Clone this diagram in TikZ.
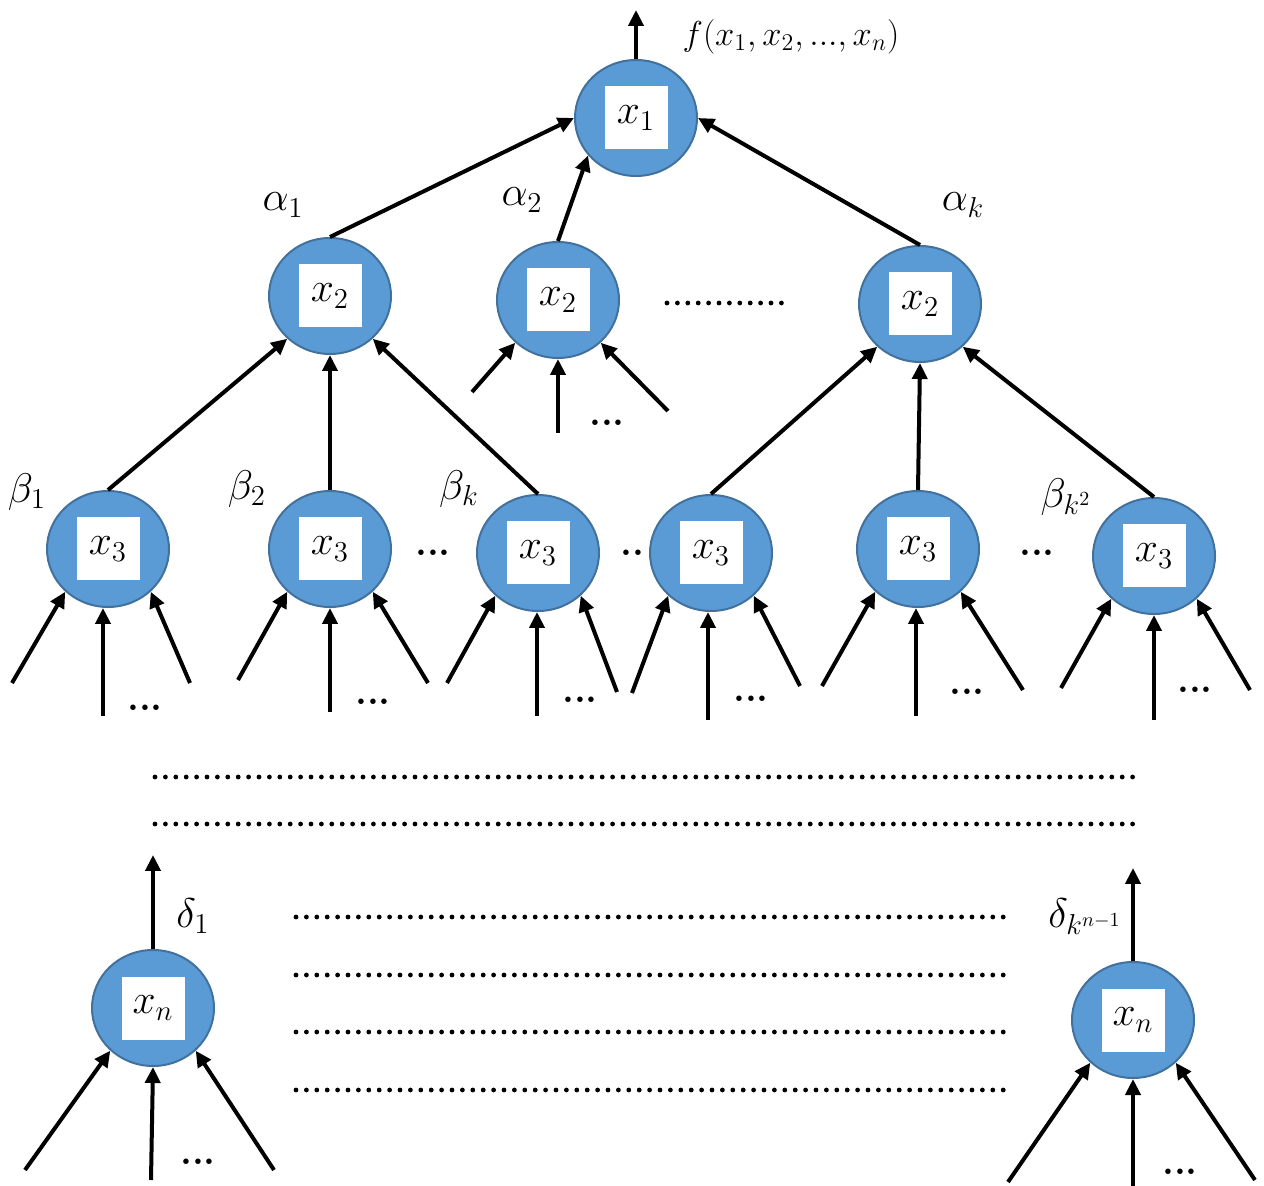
\documentclass[tikz,border=0pt]{standalone}
\usetikzlibrary{shapes.geometric,arrows.meta,calc}
\definecolor{nfill}{HTML}{5B9BD5}
\definecolor{nline}{HTML}{41719C}
\begin{document}
\begin{tikzpicture}[x=0.5pt,y=-0.5pt,
  neuron/.style={ellipse, draw=nline, line width=1pt, fill=nfill,
    minimum width=61pt, minimum height=58pt, inner sep=0pt,
    path picture={\fill[white] ([shift={(-15.75pt,-15.75pt)}]path picture bounding box.center) rectangle ++(31.5pt,31.5pt);},
    font=\fontsize{20}{22}\selectfont},
  arr/.style={line width=2pt, -{Triangle[length=8pt,width=7.5pt]}},
  lbl/.style={font=\fontsize{20}{22}\selectfont, inner sep=0pt},
  dotsl/.style={font=\fontsize{19}{20}\selectfont\bfseries, inner sep=0pt},
  dotline/.style={line width=2.4pt, line cap=round, dash pattern=on 0pt off 5.2pt}]
\useasboundingbox (0,0) rectangle (1264,1186);

% in-between dots (drawn first, partly hidden)
\node[dotsl] (d3a) at (433,553) {...};
\node[dotsl] (d3b) at (632,553) {..};
\node[dotsl] (d3c) at (1037,553) {...};

% nodes
\node[neuron] (X1) at (636,118) {$x_1$};
\node[neuron] (A) at (330,296) {$x_2$};
\node[neuron] (B) at (558,300) {$x_2$};
\node[neuron] (C) at (920,304) {$x_2$};
\node[neuron] (L1) at (108,549) {$x_3$};
\node[neuron] (L2) at (330,549) {$x_3$};
\node[neuron] (L3) at (538,553) {$x_3$};
\node[neuron] (L4) at (711,553) {$x_3$};
\node[neuron] (L5) at (918,549) {$x_3$};
\node[neuron] (L6) at (1154,556) {$x_3$};
\node[neuron] (N1) at (153,1008) {$x_n$};
\node[neuron] (N2) at (1133,1020) {$x_n$};

% labels
\node[lbl, font=\fontsize{17.5}{20}\selectfont] (fout) at (791,37) {$f(x_1,x_2,{.}{.}{.},x_n)$};
\node[lbl] (a1) at (283,205) {$\alpha_1$};
\node[lbl] (a2) at (522,200) {$\alpha_2$};
\node[lbl] (ak) at (963,205) {$\alpha_k$};
\node[lbl] (b1) at (27,492) {$\beta_1$};
\node[lbl] (b2) at (247,489) {$\beta_2$};
\node[lbl] (bk) at (459,489) {$\beta_k$};
\node[lbl] (bk2) at (1066,497) {$\beta_{k^2}$};
\node[lbl] (dl1) at (193,916) {$\delta_1$};
\node[lbl] (dl2) at (1085,917) {$\delta_{k^{n-1}}$};

% output arrows
\coordinate (X1o) at (636,10);
\draw[arr] (X1.north) -- (X1o);
\coordinate (N1o) at (153,855);
\draw[arr] (N1.north) -- (N1o);
\coordinate (N2o) at (1133,868);
\draw[arr] (N2.north) -- (N2o);

% level 2 -> top
\draw[arr] (A.north) -- (X1.west);
\draw[arr] (B.north) -- (X1.218);
\draw[arr] (C.north) -- (X1.east);

% level 3 -> level 2
\draw[arr] (L1.north) -- (A.225);
\draw[arr] (L2.north) -- (A.south);
\draw[arr] (L3.north) -- (A.315);
\draw[arr] (L4.north) -- (C.225);
\draw[arr] (L5.north) -- (C.south);
\draw[arr] (L6.north) -- (C.315);

% inputs of B
\coordinate (Bi1) at (472,392);
\coordinate (Bi2) at (558,433);
\coordinate (Bi3) at (668,411);
\draw[arr] (Bi1) -- (B.225);
\draw[arr] (Bi2) -- (B.south);
\draw[arr] (Bi3) -- (B.315);
\node[dotsl] (dB) at (607,423) {...};
\draw[dotline] (667,303) -- (790,303);

% inputs of level 3
\foreach \n/\lx/\ly/\mx/\my/\rx/\ry/\dx/\dy in
  {L1/12/683/103/716/190/683/145/708,
   L2/238/680/330/712/428/683/373/702,
   L3/447/683/537/716/617/692/580/700,
   L4/632/693/708/720/800/686/751/699,
   L5/822/686/916/716/1023/690/967/692,
   L6/1061/688/1154/720/1250/690/1195/690}{
  \coordinate (\n-l) at (\lx,\ly);
  \coordinate (\n-m) at (\mx,\my);
  \coordinate (\n-r) at (\rx,\ry);
  \draw[arr] (\n-l) -- (\n.225);
  \draw[arr] (\n-m) -- (\n-m |- \n.south);
  \draw[arr] (\n-r) -- (\n.315);
  \node[dotsl] (\n-d) at (\dx,\dy) {...};
}

% inputs of level n
\coordinate (N1-l) at (25,1170);
\coordinate (N1-m) at (151,1180);
\coordinate (N1-r) at (274,1170);
\draw[arr] (N1-l) -- (N1.225);
\draw[arr] (N1-m) -- (N1.south);
\draw[arr] (N1-r) -- (N1.315);
\node[dotsl] (N1-d) at (198,1162) {...};
\coordinate (N2-l) at (1008,1182);
\coordinate (N2-m) at (1133,1186);
\coordinate (N2-r) at (1255,1180);
\draw[arr] (N2-l) -- (N2.225);
\draw[arr] (N2-m) -- (N2.south);
\draw[arr] (N2-r) -- (N2.315);
\node[dotsl] (N2-d) at (1180,1172) {...};

% dotted rows
\draw[dotline] (155,777) -- (1142,777);
\draw[dotline] (155,824) -- (1142,824);
\draw[dotline] (296,917) -- (1004,917);
\draw[dotline] (296,975) -- (1004,975);
\draw[dotline] (296,1032) -- (1004,1032);
\draw[dotline] (296,1090) -- (1004,1090);
\end{tikzpicture}
\end{document}
